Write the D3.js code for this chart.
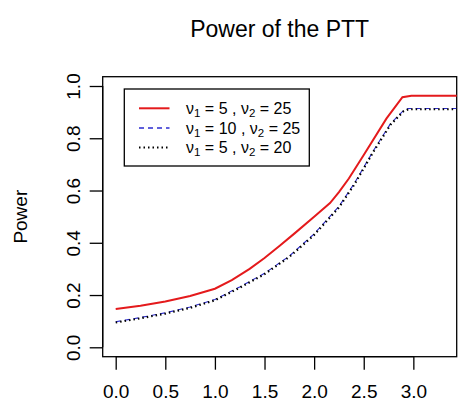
<!DOCTYPE html>
<html>
<head>
<meta charset="utf-8">
<script src="https://cdn.jsdelivr.net/npm/d3@7"></script>
<style>
  body { margin: 0; background: #fff; }
  svg { font-family: "Liberation Sans", Arial, Helvetica, sans-serif; }
</style>
</head>
<body>
<svg id="chart"></svg>
<script>
// Values
const xTicks = [0, 0.5, 1, 1.5, 2, 2.5, 3];
const yTicks = [0, 0.2, 0.4, 0.6, 0.8, 1];

const redX = [0, 0.25, 0.5, 0.75, 1.0, 1.17, 1.35, 1.5, 1.65, 1.8, 2.0, 2.16, 2.25, 2.35, 2.5, 2.73, 2.89, 2.98, 3.44];
const redY = [0.147, 0.159, 0.175, 0.196, 0.224, 0.257, 0.300, 0.342, 0.388, 0.435, 0.500, 0.552, 0.594, 0.646, 0.736, 0.876, 0.957, 0.963, 0.963];

const blueX = [0, 0.25, 0.5, 0.75, 1.0, 1.25, 1.5, 1.75, 2.0, 2.25, 2.4, 2.6, 2.77, 2.9, 2.95, 3.44];
const blueY = [0.098, 0.114, 0.132, 0.154, 0.183, 0.231, 0.283, 0.349, 0.434, 0.539, 0.624, 0.754, 0.856, 0.906, 0.914, 0.914];

const blackX = [0, 0.25, 0.5, 0.75, 1.0, 1.25, 1.5, 1.75, 2.0, 2.25, 2.4, 2.6, 2.77, 2.9, 2.95, 3.44];
const blackY = [0.095, 0.111, 0.129, 0.151, 0.180, 0.228, 0.280, 0.346, 0.430, 0.535, 0.620, 0.750, 0.852, 0.903, 0.911, 0.911];

const seriesNames = [
    { n1: '5', n2: '25' },
    { n1: '10', n2: '25' },
    { n1: '5', n2: '20' }
];

const width = 466, height = 413;
const box = { left: 102.7, right: 456.7, top: 76.7, bottom: 356.7 };

const svg = d3.select('#chart')
    .attr('width', width)
    .attr('height', height);

const x = d3.scaleLinear().domain([-0.131, 3.437]).range([box.left, box.right]);
const y = d3.scaleLinear().domain([-0.036, 1.0356]).range([box.bottom, box.top]);

// Title
svg.append('text')
    .attr('x', (box.left + box.right) / 2)
    .attr('y', 37.3)
    .attr('text-anchor', 'middle')
    .style('font-size', '23px')
    .text('Power of the PTT');

// Axes
const xAxis = svg.append('g')
    .attr('transform', `translate(0,${box.bottom})`)
    .call(d3.axisBottom(x).tickValues(xTicks).tickSize(13).tickPadding(28).tickFormat(d3.format('.1f')));
xAxis.select('.domain').attr('d', `M${x(0)},0H${x(3)}`).attr('stroke-width', 1.3);
xAxis.selectAll('.tick line').attr('stroke-width', 1.3);
xAxis.selectAll('text').style('font-size', '19px').attr('dy', '0');

const yAxis = svg.append('g')
    .attr('transform', `translate(${box.left},0)`)
    .call(d3.axisLeft(y).tickValues(yTicks).tickSize(13).tickFormat(d3.format('.1f')));
yAxis.select('.domain').attr('d', `M0,${y(0)}V${y(1)}`).attr('stroke-width', 1.3);
yAxis.selectAll('.tick line').attr('stroke-width', 1.3);
yAxis.selectAll('text')
    .style('font-size', '19px')
    .attr('x', null).attr('dy', null)
    .attr('text-anchor', 'middle')
    .attr('transform', 'translate(-22.5,0) rotate(-90)');

// Y label
svg.append('text')
    .attr('transform', `translate(26.7,${(box.top + box.bottom) / 2}) rotate(-90)`)
    .attr('text-anchor', 'middle')
    .style('font-size', '19px')
    .text('Power');

// Plot box
svg.append('rect')
    .attr('x', box.left).attr('y', box.top)
    .attr('width', box.right - box.left).attr('height', box.bottom - box.top)
    .attr('fill', 'none').attr('stroke', '#000').attr('stroke-width', 1.3);

svg.append('clipPath').attr('id', 'clip')
    .append('rect')
    .attr('x', box.left).attr('y', box.top)
    .attr('width', box.right - box.left).attr('height', box.bottom - box.top);

const line = d3.line().x(d => x(d[0])).y(d => y(d[1]));
const styles = [
    { color: '#e41a1c', dash: null, w: 2 },
    { color: '#2b2bd0', dash: '5,4', w: 1.6 },
    { color: '#000', dash: '1.5,3', w: 2.2 }
];
const curves = [
    d3.zip(redX, redY),
    d3.zip(blueX, blueY),
    d3.zip(blackX, blackY)
];

const plot = svg.append('g').attr('clip-path', 'url(#clip)');
curves.forEach((pts, i) => {
    plot.append('path')
        .datum(pts)
        .attr('d', line)
        .attr('fill', 'none')
        .attr('stroke', styles[i].color)
        .attr('stroke-width', i === 1 ? 1.1 : styles[i].w)
        .attr('stroke-dasharray', styles[i].dash);
});

// Legend
const legend = svg.append('g');
legend.append('rect')
    .attr('x', 124.3).attr('y', 89)
    .attr('width', 185).attr('height', 77)
    .attr('fill', '#fff').attr('stroke', '#000').attr('stroke-width', 1.3);

const rowY = [108.3, 128, 147.5];
seriesNames.forEach((s, i) => {
    legend.append('line')
        .attr('x1', 139).attr('x2', 169.5)
        .attr('y1', rowY[i]).attr('y2', rowY[i])
        .attr('stroke', styles[i].color)
        .attr('stroke-width', styles[i].w)
        .attr('stroke-dasharray', styles[i].dash);
    const t = legend.append('text')
        .attr('x', 186)
        .attr('y', rowY[i] + 5.5)
        .style('font-size', '16px');
    t.append('tspan').text('\u03bd');
    t.append('tspan').attr('dy', 3).style('font-size', '11.5px').text('1');
    t.append('tspan').attr('dy', -3).text(' = ' + s.n1 + ' , \u03bd');
    t.append('tspan').attr('dy', 3).style('font-size', '11.5px').text('2');
    t.append('tspan').attr('dy', -3).text(' = ' + s.n2);
});
</script>
</body>
</html>
